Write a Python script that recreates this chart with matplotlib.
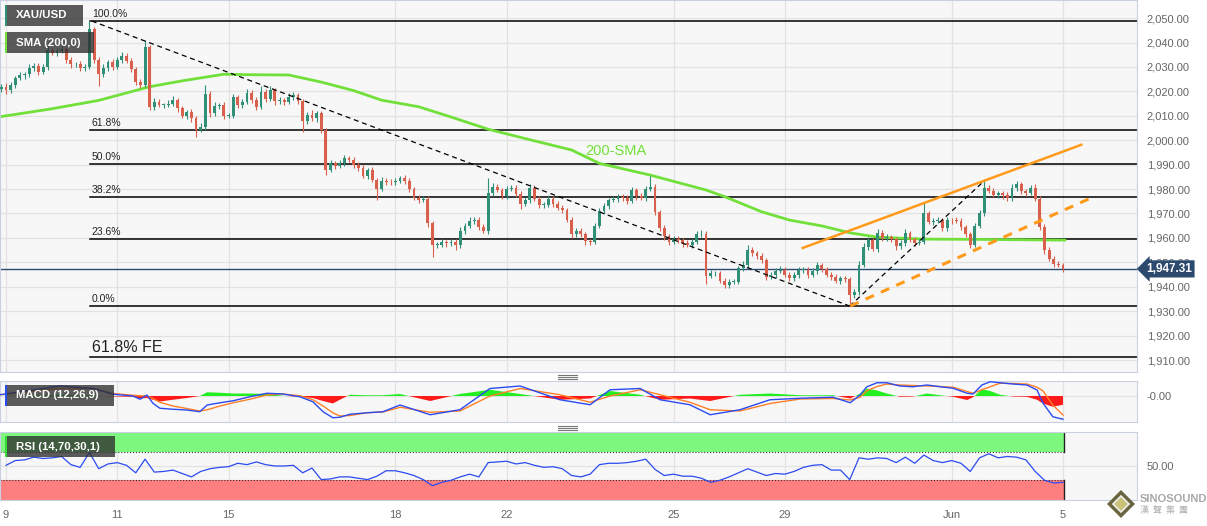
import numpy as np
import matplotlib
matplotlib.use('Agg')
import matplotlib.pyplot as plt
from matplotlib.patches import Rectangle, Polygon
from matplotlib.lines import Line2D

plt.rcParams['font.family'] = ['Liberation Sans', 'DejaVu Sans']

# XAU/USD 2-hour candles, first bar is the last one of May 8 (bar -1)
closes = [
    2021.9, 2020.5, 2022.5, 2025.5, 2026.5, 2027, 2029.5, 2030.5, 2028, 2030,
    2036.9, 2035.7, 2036.5, 2037.5, 2033, 2031, 2031, 2029.5, 2030, 2045.5,
    2033, 2027, 2029.5, 2032, 2030, 2032.8, 2034.5, 2032.5, 2029, 2024,
    2022.6, 2038, 2013.7, 2015.7, 2014.4, 2014.4, 2015, 2016.4, 2013, 2010,
    2011.5, 2008.9, 2004.2, 2005.5, 2019, 2011, 2014, 2014.4, 2010, 2010,
    2017.5, 2014.4, 2015.7, 2019.2, 2016.5, 2013.7, 2019.8, 2017, 2020.5, 2016,
    2016.4, 2015.7, 2017.8, 2018.5, 2016, 2008, 2010.3, 2008.9, 2011, 2004,
    1988, 1990.5, 1989.5, 1990.5, 1992.6, 1992, 1990, 1988.5, 1985.5, 1987.8,
    1983.7, 1980, 1983.5, 1982.8, 1982.7, 1983.3, 1984.5, 1983.5, 1980, 1976.5,
    1975.5, 1976, 1966, 1957, 1957.1, 1958.2, 1957.8, 1958.4, 1957, 1963,
    1965, 1967, 1967.5, 1964.5, 1963, 1978.2, 1981, 1979.6, 1977.2, 1980,
    1980.5, 1978, 1974, 1975.5, 1980.5, 1976, 1973.5, 1973.5, 1976, 1974,
    1972.3, 1971.4, 1967.5, 1961.5, 1963, 1961.5, 1958.7, 1958.4, 1965, 1971,
    1973, 1975.5, 1975.8, 1976.9, 1976.2, 1975.2, 1979.5, 1977, 1976.5, 1980,
    1981, 1970.5, 1964, 1960.7, 1958.4, 1959.6, 1959.1, 1957.8, 1957.2, 1958.4,
    1961.5, 1961.8, 1944.5, 1945.5, 1945.5, 1942.5, 1940.8, 1942, 1942, 1947.5,
    1949, 1955, 1953.7, 1952.7, 1950.9, 1944, 1944.8, 1946.5, 1947, 1945,
    1943.5, 1944.8, 1946.8, 1947, 1945, 1946.6, 1948.9, 1947.2, 1945, 1944.1,
    1942.5, 1943.4, 1943, 1936.5, 1938, 1949, 1956.4, 1959, 1955.5, 1961.9,
    1959.8, 1960.3, 1959.5, 1956.5, 1957.8, 1962, 1959.5, 1958, 1958.5, 1970,
    1966.5, 1967, 1967.3, 1964, 1967.3, 1967.2, 1967, 1964.4, 1961.5, 1957.1,
    1965, 1970, 1980.5, 1979.4, 1977.7, 1978.2, 1977.5, 1976.2, 1980.5, 1982,
    1979, 1978.5, 1980.3, 1976, 1964.5, 1955, 1951.5, 1949.3, 1948.9, 1947.31,
]
first_open = 2021.0

# wick lengths above / below the candle body
upper_wick = [
    1.0, 1.5, 1.2, 0.8, 1.5, 1.0, 1.8, 1.2, 1.0, 1.4,
    1.6, 1.0, 1.2, 1.5, 0.8, 1.2, 1.0, 1.4, 1.0, 3.3,
    1.0, 1.2, 1.5, 1.0, 1.2, 1.4, 1.5, 1.0, 1.2, 1.0,
    1.0, 3.0, 1.0, 1.5, 1.2, 1.0, 1.4, 1.6, 1.0, 1.2,
    1.0, 1.2, 1.0, 1.4, 3.6, 1.2, 1.5, 1.0, 1.2, 1.0,
    1.4, 1.2, 1.0, 1.6, 1.2, 1.0, 2.2, 1.2, 1.5, 1.0,
    1.2, 1.0, 1.4, 1.2, 1.0, 1.0, 1.2, 2.0, 1.0, 1.0,
    1.0, 1.2, 1.0, 1.4, 1.2, 1.0, 1.2, 1.0, 1.4, 1.0,
    1.2, 1.0, 1.5, 1.0, 1.2, 1.4, 1.0, 1.2, 1.0, 1.0,
    1.2, 1.0, 1.0, 1.0, 1.2, 1.4, 1.0, 1.2, 1.0, 1.4,
    1.2, 1.4, 1.0, 1.2, 1.0, 6.2, 1.5, 1.2, 1.0, 1.4,
    1.2, 1.0, 1.0, 1.2, 1.5, 1.0, 1.2, 1.0, 1.6, 1.0,
    1.2, 1.0, 1.0, 1.2, 1.0, 1.2, 1.0, 1.0, 1.2, 1.4,
    1.2, 1.0, 1.4, 1.2, 1.0, 1.2, 1.5, 1.0, 1.2, 1.4,
    4.3, 1.0, 1.0, 1.2, 1.0, 1.2, 1.0, 1.0, 1.2, 1.0,
    1.2, 1.4, 1.0, 1.2, 1.0, 1.0, 1.2, 1.0, 1.0, 1.2,
    1.4, 2.0, 1.2, 1.0, 1.0, 1.0, 1.2, 1.0, 1.4, 1.0,
    1.0, 1.2, 1.4, 1.2, 1.0, 1.2, 1.4, 1.0, 1.0, 1.0,
    1.2, 1.0, 1.0, 1.0, 1.2, 1.4, 1.5, 1.2, 1.0, 1.6,
    1.2, 1.4, 1.0, 1.0, 1.2, 1.6, 1.0, 1.0, 1.2, 4.2,
    1.0, 1.2, 1.4, 1.0, 1.2, 1.0, 1.2, 1.0, 1.0, 1.0,
    1.2, 1.4, 3.2, 1.0, 1.2, 1.0, 1.0, 1.2, 1.4, 1.5,
    1.0, 1.2, 1.4, 1.6, 1.0, 1.0, 1.2, 1.0, 1.2, 1.0,
]
lower_wick = [
    1.2, 1.5, 1.0, 1.2, 1.0, 1.4, 1.0, 1.2, 1.5, 1.0,
    1.2, 1.0, 1.4, 1.0, 1.2, 1.5, 1.0, 1.2, 1.0, 1.0,
    1.5, 5.0, 1.2, 1.0, 1.4, 1.0, 1.2, 1.0, 1.2, 1.5,
    1.2, 1.0, 1.4, 1.2, 1.0, 1.2, 1.0, 1.2, 1.4, 1.0,
    1.2, 1.5, 2.8, 1.0, 1.2, 1.5, 1.0, 1.2, 1.4, 1.0,
    1.0, 1.2, 1.4, 1.0, 1.2, 1.5, 1.0, 1.2, 1.0, 1.4,
    1.0, 1.2, 1.0, 1.2, 1.0, 4.5, 1.2, 1.0, 1.4, 1.2,
    2.3, 1.0, 1.2, 1.0, 1.2, 1.0, 1.4, 1.2, 1.0, 1.2,
    1.0, 4.5, 1.0, 1.2, 1.0, 1.2, 1.0, 1.4, 1.2, 1.0,
    1.2, 1.0, 1.5, 4.7, 1.2, 1.0, 1.4, 1.0, 2.0, 1.0,
    1.2, 1.0, 1.4, 1.2, 1.0, 1.2, 1.0, 1.0, 1.4, 1.2,
    1.0, 1.2, 2.0, 1.0, 1.2, 1.0, 1.4, 1.2, 1.0, 1.2,
    1.0, 1.2, 1.0, 1.4, 1.2, 1.0, 1.6, 1.2, 1.0, 1.0,
    1.2, 1.0, 1.0, 1.2, 1.0, 1.2, 1.0, 1.4, 1.0, 1.2,
    1.0, 1.2, 1.0, 1.4, 1.2, 1.0, 1.2, 1.4, 1.0, 1.2,
    1.0, 1.2, 3.5, 1.0, 1.2, 1.0, 1.4, 1.2, 1.0, 1.0,
    1.0, 1.2, 1.0, 1.2, 1.0, 1.4, 1.0, 1.2, 1.0, 1.0,
    1.2, 1.0, 1.2, 1.0, 1.4, 1.0, 1.2, 1.0, 1.2, 1.4,
    1.0, 1.2, 1.0, 4.4, 1.0, 1.2, 1.0, 1.5, 1.0, 1.2,
    1.0, 1.2, 1.0, 1.4, 1.0, 1.2, 1.0, 1.4, 1.0, 1.2,
    1.0, 1.2, 1.0, 1.2, 1.0, 1.4, 1.0, 1.2, 1.0, 1.2,
    1.0, 1.0, 1.2, 1.0, 1.0, 1.2, 1.4, 1.0, 1.0, 1.2,
    1.0, 1.2, 1.0, 1.0, 1.2, 1.4, 1.0, 1.2, 1.0, 1.4,
]

day_labels = ['9', '11', '15', '18', '22', '25', '29', 'Jun', '5']
day_number = [0, 2, 4, 7, 9, 12, 14, 17, 19]   # trading days since May 9
bars_per_day = 12

# 200-SMA (bar, price)
sma_bar = [-1.3, 10, 20, 31, 38, 47, 53, 61, 68, 75, 81, 89, 96, 104, 113, 122,
           128, 139, 151, 155, 163, 169, 176, 182, 188, 198, 209, 228.4]
sma_val = [2009.6, 2012.9, 2016.3, 2021.9, 2024.3, 2027.0, 2026.8, 2026.7, 2023.8,
           2020.3, 2016.4, 2013.7, 2009.5, 2004.5, 2000.2, 1996.0, 1990.5, 1985.7,
           1979.6, 1976.9, 1970.7, 1967.3, 1964.9, 1962.1, 1960.3, 1959.5, 1959.4, 1959.1]

swing_high = 2048.8
swing_low = 1932.1
swing_bar = 18.2
fib_ratios = [1.0, 0.618, 0.5, 0.382, 0.236, 0.0]
fib_names = ['100.0%', '61.8%', '50.0%', '38.2%', '23.6%', '0.0%']
fe_level = 1911.2
last_price = 1947.31

# drawn lines: (bar, price) end points
down_line = [(18.5, 2048.8), (182.0, 1932.1)]
up_line = [(182.0, 1932.1), (211.2, 1983.7)]
channel_top = [(171.6, 1955.7), (232.2, 1998.3)]
channel_bottom = [(182.1, 1932.1), (234.2, 1976.5)]

# MACD (12,26,9)
macd_bar = [-1.3, 11.6, 18.8, 23.1, 27.4, 28.9, 30.4, 31.7, 33.2, 36.0,
            39.0, 41.8, 43.4, 46.2, 49.0, 52.6, 56.3, 59.7, 63.4, 66.2,
            68.4, 70.5, 72.0, 74.2, 77.9, 81.3, 85.0, 91.5, 97.9, 104.4,
            110.9, 119.5, 126.0, 130.3, 136.8, 141.1, 147.5, 151.9, 158.3, 164.8,
            171.3, 178.4, 182.1, 184.2, 185.7, 187.9, 190.0, 192.8, 195.6, 198.7,
            201.5, 204.3, 207.3, 208.6, 210.5, 212.3, 214.4, 217.2, 220.2, 222.4,
            223.7, 225.8, 228.0]
macd_line = [0.5, 4.0, 3.0, 0.7, 0.0, -1.3, 0.4, -2.9, -4.9, -5.3,
             -5.6, -6.3, -3.6, -2.7, -1.9, -0.3, 1.1, 0.8, -0.3, -2.3,
             -6.3, -8.7, -8.5, -7.3, -6.7, -6.3, -3.6, -7.5, -5.5, 3.0,
             4.0, -1.5, -3.5, 2.5, 3.0, -1.5, -3.5, -7.5, -5.5, -1.5,
             -0.9, -0.5, -2.7, 0.4, 3.7, 5.3, 5.3, 4.0, 3.7, 4.4,
             3.7, 3.1, 1.1, 0.8, 4.4, 5.7, 5.3, 4.8, 4.4, 2.4,
             -2.9, -8.3, -9.3]
macd_signal = [0.5, 3.0, 3.0, 1.0, 0.3, 0.1, 0.0, -1.0, -2.5, -4.0,
               -5.0, -6.0, -5.5, -4.0, -2.7, -1.3, 0.4, 0.8, 0.1, -1.5,
               -4.0, -6.7, -8.0, -7.8, -6.7, -6.4, -4.5, -6.5, -6.0, 0.0,
               3.0, 0.5, -2.5, 0.0, 2.5, 0.5, -2.5, -5.5, -6.0, -3.0,
               -1.2, -1.0, -1.6, -0.5, 2.1, 3.8, 4.8, 4.4, 4.2, 4.0,
               3.8, 3.5, 1.8, 1.1, 2.5, 3.7, 5.1, 5.0, 4.8, 3.5,
               2.0, -3.6, -7.6]
macd_hist = [0.0, 0.5, 0.2, -0.2, -0.3, -1.0, -0.8, -1.5, -2.2, -1.5,
             -0.8, 0.0, 1.5, 1.3, 1.0, 1.0, 0.8, 0.1, -0.3, -0.8,
             -2.0, -3.0, -1.5, 0.5, 0.3, 0.3, 0.8, -2.0, 0.8, 2.5,
             0.8, -1.5, -1.0, 2.0, 0.5, -1.5, -1.0, -2.0, 0.5, 1.0,
             0.3, 0.3, -1.0, 0.9, 3.0, 2.2, 1.0, -0.3, -0.2, 1.0,
             0.3, -0.3, -1.6, -0.5, 2.7, 2.0, 0.5, -0.2, -0.3, -1.5,
             -3.0, -4.3, -3.5]

# RSI (14), one value every second bar
rsi_vals = [51, 58, 59, 63, 61, 62, 64, 52, 48, 70,
            46, 53, 55, 51, 40, 60, 41, 42, 44, 39,
            34, 42, 46, 48, 49, 54, 52, 56, 52, 50,
            50, 51, 40, 47, 30, 31, 34, 34, 32, 30,
            35, 43, 43, 40, 36, 30, 21, 26, 29, 34,
            38, 34, 55, 56, 57, 53, 55, 51, 48, 49,
            46, 36, 34, 38, 52, 54, 54, 55, 57, 60,
            45, 36, 38, 35, 35, 32, 26, 29, 34, 40,
            46, 41, 36, 39, 38, 42, 48, 51, 52, 44,
            44, 30, 62, 60, 62, 61, 55, 63, 54, 66,
            58, 55, 58, 54, 42, 62, 68, 62, 64, 63,
            59, 42, 29, 25, 26]

# ---------------------------------------------------------------
UP, DOWN = '#2f8f77', '#d9604c'
GRID = '#e2e2e2'
EDGE = '#c9d0e2'
TICK = '#666666'
W, H = 1207, 526
xmin, xmax = -1.29, 243.96

c = np.array(closes)
o = np.concatenate([[first_open], c[:-1]])
x = np.arange(len(c)) - 1
hi = np.maximum(o, c) + np.array(upper_wick)
lo = np.minimum(o, c) - np.array(lower_wick)
cols = np.where(c >= o, UP, DOWN)

fig = plt.figure(figsize=(W / 100, H / 100), dpi=100)


def px_box(l, t, r, b):
    return [l / W, 1 - b / H, (r - l) / W, (b - t) / H]


ax = fig.add_axes(px_box(0, 0, 1137, 372))
ax_m = fig.add_axes(px_box(0, 381, 1137, 422), sharex=ax)
ax_r = fig.add_axes(px_box(0, 432, 1137, 500), sharex=ax)

day_ticks = np.array(day_number) * bars_per_day
for a in (ax, ax_m, ax_r):
    a.set_facecolor('#f7f7f7')
    for s in a.spines.values():
        s.set_color(EDGE)
    a.yaxis.tick_right()
    a.tick_params(axis='both', length=0, labelsize=8, labelcolor=TICK, pad=7)
    for t in day_ticks:
        a.axvline(t, color=GRID, lw=0.9, zorder=0)
ax.set_xlim(xmin, xmax)
ax_r.set_xticks(day_ticks)
ax_r.set_xticklabels(day_labels)
ax.tick_params(labelbottom=False)
ax_m.tick_params(labelbottom=False)

# ---- price panel
ax.set_ylim(1905.1, 2057.4)
yt = np.arange(1910, 2051, 10)
ax.set_yticks(yt)
ax.set_yticklabels([f'{v:,.2f}' for v in yt])
for v in yt:
    ax.axhline(v, color=GRID, lw=0.9, zorder=0)

for r, name in zip(fib_ratios, fib_names):
    lvl = swing_low + r * (swing_high - swing_low)
    ax.plot([swing_bar, xmax], [lvl, lvl], color='black', lw=1.1, zorder=2)
    ax.text(swing_bar + 0.3, lvl + 0.8, name, fontsize=7.5, color='#222222', va='bottom')
ax.plot([swing_bar, xmax], [fe_level, fe_level], color='black', lw=1.1, zorder=2)
ax.text(swing_bar + 0.3, fe_level + 0.8, '61.8% FE', fontsize=11.5, color='#222222', va='bottom')

ax.axhline(last_price, color='#2c4a6e', lw=1, zorder=2)

ax.plot(sma_bar, sma_val, color='#72e03a', lw=2, zorder=2.5)
ax.text(131.6, 1995.6, '200-SMA', color='#72e03a', fontsize=10.5, ha='center', va='center')

ax.vlines(x, lo, hi, colors=cols, lw=0.8, zorder=3)
ax.bar(x, np.maximum(np.abs(c - o), 0.3), bottom=np.minimum(o, c), width=0.62,
       color=cols, lw=0, zorder=3)

for pts in (down_line, up_line):
    (x0, y0), (x1, y1) = pts
    ax.plot([x0, x1], [y0, y1], color='black', lw=0.9, dashes=(4, 3), zorder=4)
(x0, y0), (x1, y1) = channel_top
ax.plot([x0, x1], [y0, y1], color='#ff9a1a', lw=1.8, zorder=4, solid_capstyle='butt')
(x0, y0), (x1, y1) = channel_bottom
ax.plot([x0, x1], [y0, y1], color='#ff9a1a', lw=2.2, dashes=(3, 2.5), zorder=4)

ax.text(1.008, last_price, f'{last_price:,.2f}', transform=ax.get_yaxis_transform(),
        color='white', fontsize=8.5, fontweight='bold', va='center', ha='left',
        bbox=dict(boxstyle='larrow,pad=0.22', fc='#2c4a6e', ec='none'), clip_on=False, zorder=6)

# ---- MACD panel
ax_m.set_ylim(-10.4, 6.0)
ax_m.set_yticks([0])
ax_m.set_yticklabels(['-0.00'])
ax_m.axhline(0, color=GRID, lw=0.9, zorder=0)
mb = np.array(macd_bar)
mh = np.array(macd_hist)
ax_m.fill_between(mb, 0, mh, where=mh >= 0, interpolate=True, color='#22ee22', lw=0, zorder=2)
ax_m.fill_between(mb, 0, mh, where=mh <= 0, interpolate=True, color='#ff1a1a', lw=0, zorder=2)
ax_m.plot(mb, macd_signal, color='#ff7f27', lw=1, zorder=3)
ax_m.plot(mb, macd_line, color='#2a4bf0', lw=1, zorder=3)

# ---- RSI panel
ax_r.set_ylim(0, 100)
ax_r.set_yticks([50])
ax_r.set_yticklabels(['50.00'])
ax_r.axhline(50, color=GRID, lw=0.9, zorder=0)
band_end = 228.3
ax_r.add_patch(Rectangle((xmin, 70), band_end - xmin, 30, fc='#7ef77e', ec='none', zorder=1))
ax_r.add_patch(Rectangle((xmin, 0), band_end - xmin, 30, fc='#fd7f7f', ec='none', zorder=1))
for lvl in (70, 30):
    ax_r.plot([xmin, band_end], [lvl, lvl], color='#333333', lw=0.8, ls=':', zorder=2)
ax_r.plot([band_end, band_end], [70, 100], color='#222222', lw=1, zorder=2)
ax_r.plot([band_end, band_end], [0, 30], color='#222222', lw=1, zorder=2)
ax_r.plot(np.arange(len(rsi_vals)) * 2, rsi_vals, color='#2a4bf0', lw=0.9, zorder=3)


# ---- legend boxes in the top left corners
def label_box(l, t, r, b, text, strip):
    fig.patches.append(Rectangle((l / W, 1 - b / H), (r - l) / W, (b - t) / H,
                                 transform=fig.transFigure, fc='#2e2e2e', alpha=0.78, ec='none'))
    fig.patches.append(Rectangle((l / W, 1 - b / H), 2 / W, (b - t) / H,
                                 transform=fig.transFigure, fc=strip, ec='none'))
    fig.text((l + 11) / W, 1 - (t + b) / 2 / H, text, color='white', fontsize=8.2,
             fontweight='bold', va='center')


label_box(5, 5, 83, 26, 'XAU/USD', '#2f8f77')
label_box(5, 32, 94, 53, 'SMA (200,0)', '#72e03a')
label_box(5, 385, 114, 406, 'MACD (12,26,9)', '#2a4bf0')
label_box(5, 436, 115, 457, 'RSI (14,70,30,1)', '#33dd33')

# panel resize handles
for yc in (376.5, 427.5):
    for dy in (-2, 0, 2):
        fig.add_artist(Line2D([558 / W, 577 / W], [1 - (yc + dy) / H] * 2,
                              color='#777777', lw=0.8, transform=fig.transFigure))

# watermark
cx, cy, s = 1121, 504, 14
fig.add_artist(Polygon([((cx - s) / W, 1 - cy / H), (cx / W, 1 - (cy - s) / H),
                        ((cx + s) / W, 1 - cy / H), (cx / W, 1 - (cy + s) / H)],
                       closed=True, fc='#6b6440', ec='none', transform=fig.transFigure))
s2 = 8
fig.add_artist(Polygon([((cx - s2) / W, 1 - cy / H), (cx / W, 1 - (cy - s2) / H),
                        ((cx + s2) / W, 1 - cy / H), (cx / W, 1 - (cy + s2) / H)],
                       closed=True, fc='#c9c27a', ec='#eeeeee', lw=1.2, transform=fig.transFigure))
fig.text(1140 / W, 1 - 499 / H, 'SINOSOUND', color='#a8a8a8', fontsize=8, fontweight='bold', va='center')
fig.text(1140 / W, 1 - 511 / H, '漢  聲  集  團', color='#b0b0b0', fontsize=6.5, va='center',
         family=['Noto Sans CJK TC', 'DejaVu Sans'])

fig.savefig('out.png', dpi=100, facecolor='white')
